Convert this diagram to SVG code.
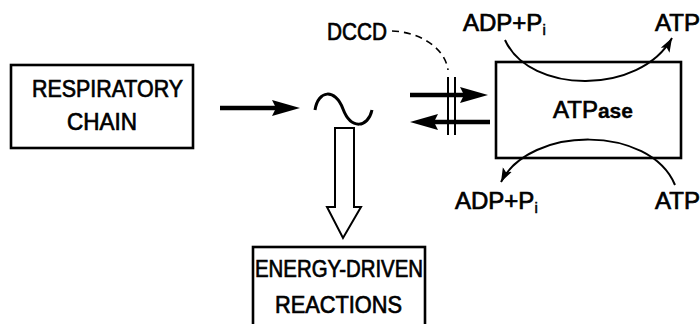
<svg xmlns="http://www.w3.org/2000/svg" width="700" height="324" viewBox="0 0 700 324">
<style>
.box{fill:none;stroke:#000;stroke-width:2.6}
.t{font-family:"Liberation Sans",Arial,sans-serif;font-size:24px;fill:#000;stroke:#000;stroke-width:0.7}
.ln{fill:none;stroke:#000;stroke-width:2}
.thick{fill:none;stroke:#000;stroke-width:4.5}
</style>
<defs>
<marker id="ah" markerUnits="userSpaceOnUse" markerWidth="16" markerHeight="12" refX="14" refY="5" orient="auto" viewBox="0 0 16 10">
<path d="M0,0 L14,5 L0,10 L3,5 Z" fill="#000"/>
</marker>
</defs>
<rect width="700" height="324" fill="#fff"/>
<g id="respiratory-chain">
<rect class="box" x="11" y="65" width="182" height="83"/>
<text class="t" x="32" y="97" textLength="151" lengthAdjust="spacingAndGlyphs">RESPIRATORY</text>
<text class="t" x="67" y="130" textLength="70" lengthAdjust="spacingAndGlyphs">CHAIN</text>
</g>
<g id="atpase">
<rect class="box" x="496" y="62" width="185" height="96"/>
<text class="t" x="553" y="118" font-size="23">ATP<tspan font-size="21" font-weight="bold" stroke-width="0.3">ase</tspan></text>
</g>
<g id="energy-driven">
<rect class="box" x="253" y="247" width="172" height="100"/>
<text class="t" x="255" y="277" textLength="168" lengthAdjust="spacingAndGlyphs">ENERGY-DRIVEN</text>
<text class="t" x="275" y="313" textLength="127" lengthAdjust="spacingAndGlyphs">REACTIONS</text>
</g>
<g id="tilde">
<path d="M315,110 C318,90 335,88 343,109 C351,130 368,128 372,110" fill="none" stroke="#000" stroke-width="3"/>
</g>
<g id="connectors">
<path d="M220,108 H280" class="thick"/>
<path d="M300,108 L272,100 L276,108 L272,116 Z" fill="#000"/>
<path d="M410,95 H468" class="thick"/>
<path d="M488,95 L460,87 L464,95 L460,103 Z" fill="#000"/>
<path d="M490,122 H430" class="thick"/>
<path d="M410,122 L438,114 L434,122 L438,130 Z" fill="#000"/>
<path d="M448,77 V135 M455,77 V135" class="ln"/>
<path d="M392,31 C420,32 445,48 448,70" fill="none" stroke="#000" stroke-width="1.6" stroke-dasharray="7,5"/>
<path d="M335,128 V207 H327 L343,238 L361,207 H354 V128 Z" fill="#fff" stroke="#000" stroke-width="2"/>
<path d="M505,40 C530,95 640,95 672,38" class="ln" marker-end="url(#ah)"/>
<path d="M675,185 C650,125 530,125 501,182" class="ln" marker-end="url(#ah)"/>
</g>
<g id="labels">
<text class="t" x="327" y="40" textLength="60" lengthAdjust="spacingAndGlyphs">DCCD</text>
<text class="t" x="463" y="31" font-size="23">ADP+P<tspan font-size="15" dy="4" stroke-width="0.5">i</tspan></text>
<text class="t" x="655" y="31" font-size="22">ATP</text>
<text class="t" x="455" y="209" font-size="24">ADP+P<tspan font-size="15" dy="4" stroke-width="0.5">i</tspan></text>
<text class="t" x="655" y="209" font-size="22">ATP</text>
</g>
</svg>
